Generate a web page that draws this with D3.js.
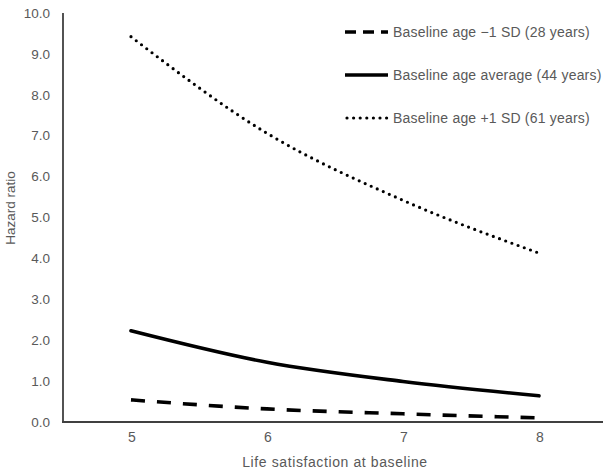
<!DOCTYPE html>
<html><head><meta charset="utf-8">
<script src="https://cdn.jsdelivr.net/npm/d3@7"></script>
<style>body{margin:0;background:#fff}svg{display:block}text{font-family:"Liberation Sans",Arial,sans-serif;fill:#595959}</style>
</head><body><div id="chart"></div>
<script>
const categories = [5, 6, 7, 8];
const seriesNames = ["Baseline age \u22121 SD (28 years)", "Baseline age average (44 years)", "Baseline age +1 SD (61 years)"];
const lowAge = [0.54, 0.32, 0.20, 0.10];
const avgAge = [2.23, 1.46, 0.99, 0.64];
const highAge = [9.42, 7.06, 5.42, 4.13];
const yTicks = [0,1,2,3,4,5,6,7,8,9,10];

const W = 603, H = 476;
const svg = d3.select("#chart").append("svg").attr("width", W).attr("height", H);
const m = {l: 63, t: 13, r: 607, b: 422};
const x = d3.scalePoint().domain(categories).range([m.l, m.r]).padding(0.5);
const y = d3.scaleLinear().domain([0, 10]).range([m.b, m.t]);

// y axis labels
svg.append("g").selectAll("text").data(yTicks).join("text")
  .attr("x", 50).attr("y", d => y(d)).attr("dy", "0.35em")
  .attr("text-anchor", "end").attr("font-size", 13.5).text(d => d.toFixed(1));
// x axis labels
svg.append("g").selectAll("text").data(categories).join("text")
  .attr("x", d => x(d) + 1).attr("y", 442).attr("text-anchor", "middle")
  .attr("font-size", 14).text(d => d);

// axes lines
svg.append("line").attr("x1", m.l).attr("x2", m.l).attr("y1", m.t).attr("y2", m.b)
  .attr("stroke", "#404040").attr("stroke-width", 1.8);
svg.append("line").attr("x1", m.l - 1).attr("x2", W).attr("y1", m.b).attr("y2", m.b)
  .attr("stroke", "#404040").attr("stroke-width", 1.8);

// titles
svg.append("text").attr("transform", "translate(15,208) rotate(-90)")
  .attr("text-anchor", "middle").attr("font-size", 13.5).text("Hazard ratio");
svg.append("text").attr("x", 335).attr("y", 467).attr("text-anchor", "middle")
  .attr("font-size", 14).attr("letter-spacing", 0.6).text("Life satisfaction at baseline");

const styles = [
  {data: lowAge, dash: "14,12", width: 3.6, cap: "butt"},
  {data: avgAge, dash: null, width: 3.6, cap: "round"},
  {data: highAge, dash: "0,6.6", width: 3.2, cap: "round"}
];
const line = d3.line().x((d, i) => x(categories[i])).y(d => y(d)).curve(d3.curveMonotoneX);
styles.forEach(s => {
  svg.append("path").attr("d", line(s.data)).attr("fill", "none")
    .attr("stroke", "#000").attr("stroke-width", s.width)
    .attr("stroke-dasharray", s.dash).attr("stroke-linecap", s.cap);
});

// legend
const legY = [32, 75, 118];
const legSamples = [
  {dash: "11,7", width: 3.6, cap: "butt"},
  {dash: null, width: 3.6, cap: "butt"},
  {dash: "0,6.6", width: 3.2, cap: "round"}
];
seriesNames.forEach((n, i) => {
  const g = svg.append("g");
  g.append("line").attr("x1", i === 2 ? 347 : 345).attr("x2", 388).attr("y1", legY[i]).attr("y2", legY[i])
    .attr("stroke", "#000").attr("stroke-width", legSamples[i].width)
    .attr("stroke-dasharray", legSamples[i].dash).attr("stroke-linecap", legSamples[i].cap);
  g.append("text").attr("x", 393).attr("y", legY[i]).attr("dy", "0.35em")
    .attr("font-size", 14).attr("letter-spacing", 0.2).text(n);
});
</script></body></html>
